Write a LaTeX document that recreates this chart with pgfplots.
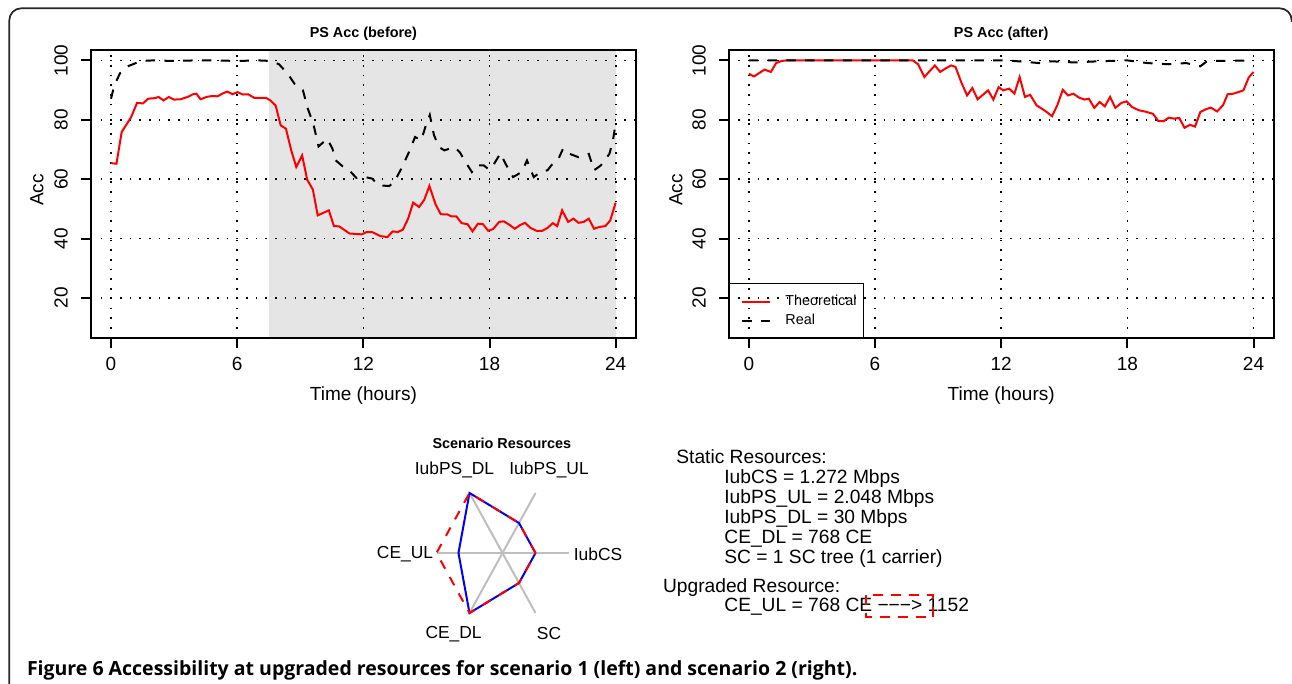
\documentclass[border=0pt]{standalone}
\usepackage{fontspec}
\setmainfont{Liberation Sans}
\newfontfamily\capfont{Open Sans}
\usepackage{pgfplots}
\pgfplotsset{compat=1.18}

\definecolor{rred}{RGB}{255,0,0}
\definecolor{rblue}{RGB}{0,0,255}
\definecolor{shade}{RGB}{229,229,229}
\definecolor{spoke}{RGB}{190,190,190}

\newcommand{\axfont}{\fontsize{9.5}{11}\selectfont}
\newcommand{\radfont}{\fontsize{8.7}{10}\selectfont}
\newcommand{\legfont}{\fontsize{7.2}{8.5}\selectfont}
\newcommand{\ttlfont}{\bfseries\fontsize{7.2}{8.5}\selectfont}

\pgfplotsset{
  accplot/.style={
    set layers,
    scale only axis, width=272.55pt, height=144.3pt,
    xmin=-0.96, xmax=24.96, ymin=6.4, ymax=103.6,
    xtick={0,6,12,18,24}, ytick={20,40,60,80,100},
    axis line style={line width=1.1pt},
    tick align=outside, tick pos=left, major tick length=5pt,
    major tick style={line width=1pt, black},
    grid=major,
    major grid style={black, line width=0.8pt, dash pattern=on 0.8pt off 4.05pt},
    tick label style={font=\axfont},
    /pgf/number format/assume math mode=true,
    yticklabel style={rotate=90, anchor=south, inner sep=0pt},
    xticklabel style={inner sep=0pt},
    xticklabel shift=4.35pt,
    yticklabel shift=6.25pt,
  },
  theo/.style={rred, line width=1pt},
  real/.style={black, line width=1pt, dash pattern=on 4.7pt off 4.7pt},
}

\begin{document}
\begin{tikzpicture}

% frame of the figure
\draw[line width=0.85pt, black!85, rounded corners=6pt]
  (4.65pt,-343pt) -- (4.65pt,-4.15pt) -- (645.85pt,-4.15pt) -- (645.85pt,-11pt);

% ---------------- left: before
\begin{axis}[accplot, at={(45.4pt,-169.15pt)}, anchor=south west]
\addplot[draw=none, fill=shade, on layer=axis background, forget plot]
  coordinates {(7.5,6.4) (24,6.4) (24,103.6) (7.5,103.6)};
\addplot[theo] coordinates {
(0,65.4)(0.26,65.2)(0.51,75.9)(0.95,80.8)(1.24,85.7)(1.52,85.5)(1.77,87.1)(2.1,87.3)
(2.26,87.7)(2.5,86.5)(2.75,87.7)(3.0,86.8)(3.3,86.9)(3.65,87.7)(3.9,88.6)(4.06,88.8)
(4.26,86.9)(4.55,87.7)(4.8,88.0)(5.07,87.9)(5.29,88.8)(5.53,89.5)(5.78,88.6)(6.02,89.3)
(6.27,88.5)(6.52,88.6)(6.81,87.4)(7.09,87.4)(7.37,87.4)(7.58,86.5)(7.83,84.8)(8.07,78.1)
(8.32,77.0)(8.57,69.7)(8.81,64.1)(9.09,68.0)(9.33,59.8)(9.6,56.5)(9.83,47.8)(10.36,49.5)
(10.6,44.2)(10.85,44.1)(11.34,41.7)(11.92,41.4)(12.16,42.2)(12.41,42.2)(12.82,40.8)
(13.15,40.5)(13.39,42.4)(13.64,42.2)(13.88,43.0)(14.13,46.7)(14.37,52.1)(14.65,50.6)
(14.9,53.1)(15.14,57.7)(15.44,51.4)(15.68,48.2)(16.01,48.1)(16.17,47.5)(16.42,47.5)
(16.67,45.2)(16.96,44.8)(17.19,42.4)(17.45,45.0)(17.68,44.9)(17.94,42.6)(18.17,43.2)
(18.46,45.6)(18.68,45.8)(18.93,44.7)(19.2,43.3)(19.45,44.5)(19.69,45.3)(19.94,43.6)
(20.24,42.6)(20.51,42.6)(20.76,43.6)(21.01,45.2)(21.22,44.2)(21.45,49.5)(21.74,45.6)
(21.99,46.7)(22.23,45.3)(22.48,45.6)(22.72,46.7)(22.97,43.3)(23.22,43.9)(23.51,44.2)
(23.74,46.1)(24,52.1)};
\addplot[real] coordinates {
(0,87.1)(0.16,91.6)(0.43,95.7)(0.79,98.0)(1.11,98.9)(1.44,99.8)(2,100)(3,99.8)(4,100)
(5,100)(6,99.8)(7,100)(7.6,99.8)(7.99,98.7)(8.4,95.5)(8.73,92.1)(9.13,89.9)(9.33,84.3)
(9.62,78.7)(9.87,71.0)(10.28,73.6)(10.53,70.3)(10.69,66.3)(11.02,64.3)(11.26,63.5)
(11.67,60.4)(12.08,60.7)(12.41,60.2)(12.74,57.9)(13.23,57.7)(13.47,59.0)(13.8,63.5)
(14.13,68.5)(14.46,74.2)(14.75,73.1)(14.95,77.6)(15.16,81.6)(15.36,74.8)(15.6,70.8)
(15.85,69.7)(16.34,70.8)(16.58,69.1)(16.91,65.2)(17.16,62.4)(17.4,64.6)(17.73,64.6)
(17.98,63.2)(18.22,65.2)(18.52,68.7)(18.76,65.2)(19.12,60.7)(19.53,62.4)(19.78,66.3)
(20.1,60.7)(20.43,62.4)(20.76,63.0)(21.0,65.2)(21.28,66.9)(21.5,70.3)(21.82,68.5)
(22.23,67.4)(22.72,68.5)(22.97,63.0)(23.29,64.6)(23.7,68.5)(23.87,73.1)(24,79.0)};
\end{axis}

% ---------------- right: after
\begin{axis}[accplot, at={(364.3pt,-169.15pt)}, anchor=south west,
  legend style={at={(axis description cs:0,0)}, anchor=south west,
    xshift=6.2pt, yshift=5.2pt, draw=none, fill=none, inner sep=0pt,
    row sep=2.9pt, column sep=7pt, font=\legfont, nodes={inner sep=0pt}},
  legend cell align=left,
  legend image code/.code={\draw[#1] (0pt,0pt) -- (14pt,0pt);}]
\addplot[theo] coordinates {
(0,95.5)(0.25,94.6)(0.75,96.9)(1.05,96.1)(1.3,99.1)(1.55,99.8)(1.8,100)(7.8,100)
(8.05,98.7)(8.35,94.4)(8.6,96.4)(8.85,98.3)(9.1,96.1)(9.38,97.4)(9.63,98.3)(9.83,97.8)
(10.1,92.7)(10.38,88.2)(10.63,90.7)(10.88,86.9)(11.38,89.9)(11.63,86.8)(11.88,91.0)
(12.1,89.9)(12.38,90.5)(12.63,88.8)(12.88,94.4)(13.13,87.7)(13.38,88.4)(13.68,84.9)
(14.13,82.8)(14.42,81.2)(14.67,84.9)(14.93,90.1)(15.18,88.2)(15.43,88.8)(15.72,87.4)
(15.97,86.8)(16.17,87.1)(16.43,84.0)(16.68,86.0)(16.93,84.5)(17.18,87.7)(17.43,84.0)
(17.72,85.7)(17.97,86.2)(18.22,84.3)(18.55,83.2)(18.88,82.7)(19.22,82.0)(19.47,79.6)
(19.72,79.5)(19.97,80.7)(20.22,80.4)(20.47,80.6)(20.72,77.3)(20.97,78.3)(21.22,77.7)
(21.47,82.6)(21.72,83.5)(21.97,84.1)(22.27,82.8)(22.55,84.9)(22.77,88.6)(23.05,88.8)
(23.27,89.3)(23.52,89.9)(23.77,94.2)(24,96.1)};
\addplot[real] coordinates {
(0,100)(12,100)(12.6,99.8)(13,99.6)(13.8,99.1)(14.4,99.7)(15.5,99.3)(16.3,99.6)
(17.1,99.8)(18,100)(18.95,99.1)(19.97,98.7)(20.8,99.1)(21.47,98.0)(21.8,99.8)(24,100)};
\legend{Theoretical, Real}
\draw[line width=0.5pt] (axis description cs:0,0) rectangle (axis description cs:0.2479,0.1916);
\end{axis}

% titles and axis labels
\node[font=\ttlfont] at (181.7pt,-16.9pt) {PS Acc (before)};
\node[font=\ttlfont] at (500.6pt,-16.9pt) {PS Acc (after)};
\node[font=\axfont] at (181.7pt,-198pt) {Time (hours)};
\node[font=\axfont] at (500.6pt,-198pt) {Time (hours)};
\node[font=\axfont, rotate=90] at (18.5pt,-95pt) {Acc};
\node[font=\axfont, rotate=90] at (338pt,-95pt) {Acc};

% ---------------- radar chart of the resources
\begin{axis}[hide axis, scale only axis, width=66pt, height=69.3pt,
  xmin=-1, xmax=1, ymin=-1, ymax=1, clip=false,
  at={(251.25pt,-276.5pt)}, anchor=center]
\addplot[spoke, line width=1pt] coordinates {(0,0) (1,0)};
\addplot[spoke, line width=1pt] coordinates {(0,0) (0.5,0.866)};
\addplot[spoke, line width=1pt] coordinates {(0,0) (-0.5,0.866)};
\addplot[spoke, line width=1pt] coordinates {(0,0) (-1,0)};
\addplot[spoke, line width=1pt] coordinates {(0,0) (-0.5,-0.866)};
\addplot[spoke, line width=1pt] coordinates {(0,0) (0.5,-0.866)};
% before upgrade
\addplot[rblue, line width=1pt] coordinates {
  (0.5,0) (0.25,0.433) (-0.5,0.866) (-0.667,0) (-0.5,-0.866) (0.25,-0.433) (0.5,0)};
% after upgrade
\addplot[rred, line width=1pt, dash pattern=on 4.7pt off 4.7pt] coordinates {
  (0.5,0) (0.25,0.433) (-0.5,0.866) (-1,0) (-0.5,-0.866) (0.25,-0.433) (0.5,0)};
\node[font=\ttlfont] at (axis cs:-0.01,1.58) {Scenario Resources};
\node[font=\radfont] at (axis cs:1.447,-0.02) {IubCS};
\node[font=\radfont] at (axis cs:0.705,1.2) {IubPS\_UL};
\node[font=\radfont] at (axis cs:-0.727,1.2) {IubPS\_DL};
\node[font=\radfont] at (axis cs:-1.477,-0.02) {CE\_UL};
\node[font=\radfont] at (axis cs:-0.741,-1.165) {CE\_DL};
\node[font=\radfont] at (axis cs:0.705,-1.165) {SC};
\end{axis}

% resources text
\begin{scope}[every node/.style={anchor=base west, inner sep=0pt, font=\fontsize{9.6}{11}\selectfont}]
\node at (338pt,-231.75pt) {Static Resources:};
\node at (362pt,-241.75pt) {IubCS = 1.272 Mbps};
\node at (362pt,-251.75pt) {IubPS\_UL = 2.048 Mbps};
\node at (362pt,-261.75pt) {IubPS\_DL = 30 Mbps};
\node at (362pt,-271.75pt) {CE\_DL = 768 CE};
\node at (362pt,-281.75pt) {SC = 1 SC tree (1 carrier)};
\node at (331.35pt,-296pt) {Upgraded Resource:};
\node at (362pt,-305.5pt) {CE\_UL = 768 CE −−−> 1152};
\end{scope}
\draw[rred, line width=1pt, dash pattern=on 5pt off 4pt] (433pt,-297.5pt) rectangle (466.65pt,-308.65pt);

% caption
\node[anchor=base west, inner sep=0pt, font=\capfont\bfseries\fontsize{9.75}{11}\selectfont]
  at (13.3pt,-337.5pt) {Figure 6 Accessibility at upgraded resources for scenario 1 (left) and scenario 2 (right).};

\pgfresetboundingbox
\path[use as bounding box] (0,0) rectangle (646pt,-342pt);
\end{tikzpicture}
\end{document}
